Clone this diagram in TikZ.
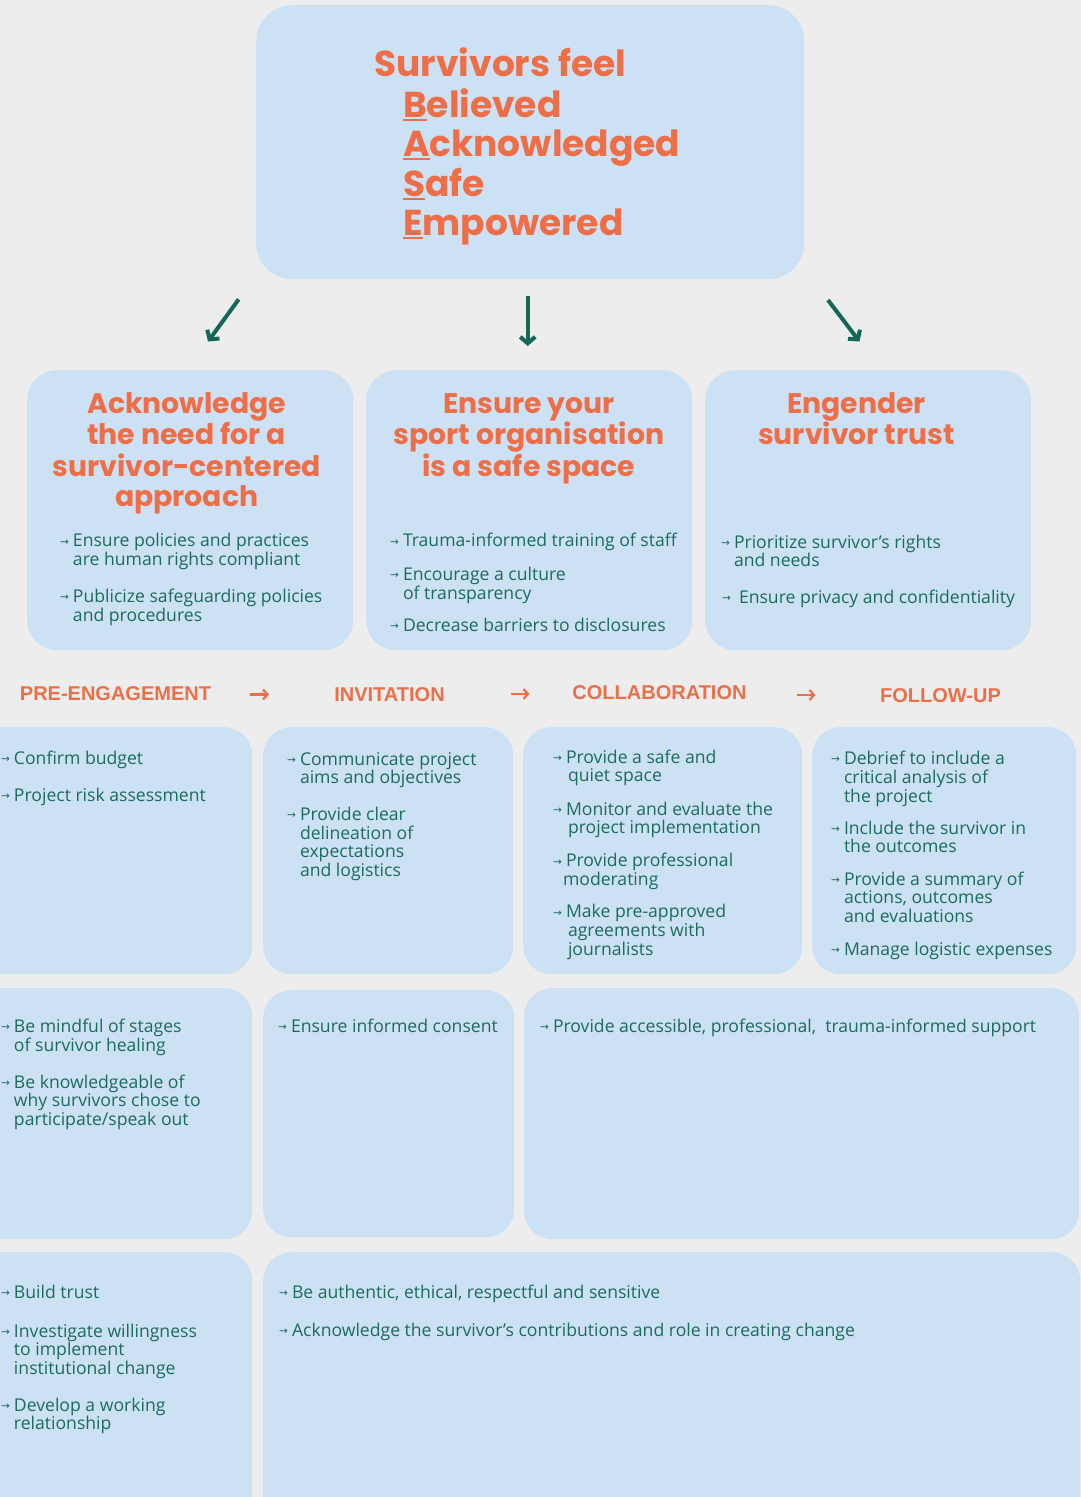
\documentclass[tikz,border=0pt]{standalone}
\usepackage{fontspec}
\setmainfont{Open Sans}
\newfontfamily\headfont{Poppins}
\newfontfamily\stagefont{Liberation Sans}
\newfontfamily\arrowfont{DejaVu Sans}
\usetikzlibrary{arrows.meta}
\definecolor{bgc}{HTML}{EDEDED}
\definecolor{boxc}{HTML}{CCE1F4}
\definecolor{orangec}{HTML}{EE6E48}
\definecolor{greenc}{HTML}{1D6B5C}
\definecolor{arrowc}{HTML}{146857}
\newcommand\arr{\raisebox{1.4pt}{\arrowfont\fontsize{10.5}{10}\selectfont →}}
\newcommand\bul[1]{\begin{tabular}[t]{@{}l@{\hspace{4pt}}l@{}}\arr & #1\end{tabular}}
\newcommand\hd[1]{\begin{tabular}[t]{@{}c@{}}#1\end{tabular}}
\newcommand\fu[1]{\setbox0\hbox{#1}\rlap{\rule[-3.8pt]{\wd0}{2.2pt}}#1}
\tikzset{
  panel/.style={fill=boxc, draw=none, inner sep=0pt, anchor=north west, rounded corners=#1},
  panel/.default=28pt,
  itm/.style={anchor=base west, inner sep=0pt, text=greenc, font=\fontsize{17.6}{18.6}\selectfont},
  head/.style={anchor=base, inner sep=0pt, text=orangec, font=\headfont\bfseries\fontsize{28.3}{30.5}\selectfont},
  titletext/.style={anchor=base west, inner sep=0pt, text=orangec, font=\headfont\bfseries\fontsize{36}{39.1}\selectfont},
  stage/.style={anchor=base, inner sep=0pt, text=orangec, font=\stagefont\bfseries\fontsize{20}{20}\selectfont},
  garrow/.style={draw=arrowc, line width=4pt, -{Straight Barb[length=6.5pt,width=15pt]}},
  oarrow/.style={draw=orangec, line width=2.2pt, -{Straight Barb[length=4.5pt,width=10pt]}},
}
\begin{document}
\begin{tikzpicture}[x=1pt,y=-1pt]
\useasboundingbox (0,0) rectangle (1081,1497);
\clip (0,0) rectangle (1081,1497);
\fill[bgc] (0,0) rectangle (1081,1497);

% top box
\node[panel=36pt, minimum width=548pt, minimum height=274pt] (top) at (256,5) {};
\node[titletext] (title) at (374.3,76.7) {\begin{tabular}[t]{@{}l@{}}Survivors feel\\
\hspace*{28.6pt}\fu{B}elieved\\
\hspace*{28.6pt}\fu{A}cknowledged\\
\hspace*{28.6pt}\fu{S}afe\\
\hspace*{28.6pt}\fu{E}mpowered\end{tabular}};

% arrows from the top box
\coordinate (g1s) at (238.7,299.3); \coordinate (g1e) at (208,341.5);
\coordinate (g2s) at (527.7,295.7); \coordinate (g2e) at (527.7,346);
\coordinate (g3s) at (828,300);   \coordinate (g3e) at (859.5,341.5);
\draw[garrow] (g1s) -- (g1e);
\draw[garrow] (g2s) -- (g2e);
\draw[garrow] (g3s) -- (g3e);

% row 2 boxes
\node[panel=30pt, minimum width=326pt, minimum height=280pt] (b1) at (27,370) {};
\node[panel=30pt, minimum width=326pt, minimum height=280pt] (b2) at (366,370) {};
\node[panel=30pt, minimum width=326pt, minimum height=280pt] (b3) at (705,370) {};

\node[head] (h1) at (186.7,413) {\hd{Acknowledge\\the need for a\\survivor-centered\\approach}};
\node[head] (h2) at (529,413) {\hd{Ensure your\\sport organisation\\is a safe space}};
\node[head] (h3) at (856.5,413) {\hd{Engender\\survivor trust}};

\node[itm] (r2a1) at (60,546.7) {\bul{Ensure policies and practices\\ & are human rights compliant}};
\node[itm] (r2a2) at (60,602.3) {\bul{Publicize safeguarding policies\\ & and procedures}};
\node[itm] (r2b1) at (390,546.7) {\bul{Trauma-informed training of staff}};
\node[itm] (r2b2) at (390,580) {\bul{Encourage a culture\\ & of transparency}};
\node[itm] (r2b3) at (390,631) {\bul{Decrease barriers to disclosures}};
\node[itm] (r2c1) at (721,548) {\bul{Prioritize survivor’s rights\\ & and needs}};
\node[itm] (r2c2) at (722,603) {\bul{\hspace{4pt}Ensure privacy and confidentiality}};

% stage labels
\node[stage] (s1) at (115.5,700) {PRE-ENGAGEMENT};
\node[stage] (s2) at (389.5,701) {INVITATION};
\node[stage] (s3) at (659.5,699) {COLLABORATION};
\node[stage] (s4) at (940.5,702) {FOLLOW-UP};
\coordinate (o1s) at (250,694.5); \coordinate (o1e) at (269,694.5);
\coordinate (o2s) at (510.5,694); \coordinate (o2e) at (529.5,694);
\coordinate (o3s) at (796.5,695); \coordinate (o3e) at (815.5,695);
\draw[oarrow] (o1s) -- (o1e);
\draw[oarrow] (o2s) -- (o2e);
\draw[oarrow] (o3s) -- (o3e);

% row 3
\node[panel, minimum width=282pt, minimum height=247pt] (p1a) at (-30,727) {};
\node[panel, minimum width=250pt, minimum height=247pt] (p1b) at (263,727) {};
\node[panel, minimum width=279pt, minimum height=247pt] (p1c) at (523,727) {};
\node[panel, minimum width=264pt, minimum height=247pt] (p1d) at (812,727) {};

\node[itm] (r3a1) at (1,764) {\bul{Confirm budget}};
\node[itm] (r3a2) at (1,801) {\bul{Project risk assessment}};
\node[itm] (r3b1) at (287,765) {\bul{Communicate project\\ & aims and objectives}};
\node[itm] (r3b2) at (287,820) {\bul{Provide clear\\ & delineation of\\ & expectations\\ & and logistics}};
\node[itm] (r3c1) at (553,763) {\bul{Provide a safe and\\ & \hspace{2pt}quiet space}};
\node[itm] (r3c2) at (553,815) {\bul{Monitor and evaluate the\\ & \hspace{2pt}project implementation}};
\node[itm] (r3c3) at (553,866.7) {\bul{Provide professional\\ & \hspace{-3pt}moderating}};
\node[itm] (r3c4) at (553,917.7) {\bul{Make pre-approved\\ & \hspace{2pt}agreements with\\ & \hspace{2pt}journalists}};
\node[itm] (r3d1) at (831,764) {\bul{Debrief to include a\\ & critical analysis of\\ & the project}};
\node[itm] (r3d2) at (831,834) {\bul{Include the survivor in\\ & the outcomes}};
\node[itm] (r3d3) at (831,885) {\bul{Provide a summary of\\ & actions, outcomes\\ & and evaluations}};
\node[itm] (r3d4) at (831,955) {\bul{Manage logistic expenses}};

% row 4
\node[panel, minimum width=282pt, minimum height=251pt] (p2a) at (-30,988) {};
\node[panel, minimum width=251pt, minimum height=247pt] (p2b) at (263,990) {};
\node[panel, minimum width=555pt, minimum height=251pt] (p2c) at (524,988) {};

\node[itm] (r4a1) at (1,1032) {\bul{Be mindful of stages\\ & of survivor healing}};
\node[itm] (r4a2) at (1,1088) {\bul{Be knowledgeable of\\ & why survivors chose to\\ & participate/speak out}};
\node[itm] (r4b1) at (278,1032) {\bul{Ensure informed consent}};
\node[itm] (r4c1) at (540,1032) {\bul{Provide accessible, professional,\ \ trauma-informed support}};

% row 5
\node[panel, minimum width=282pt, minimum height=300pt] (p3a) at (-30,1252) {};
\node[panel, minimum width=817pt, minimum height=300pt] (p3b) at (263,1252) {};

\node[itm] (r5a1) at (1,1298) {\bul{Build trust}};
\node[itm] (r5a2) at (1,1337) {\bul{Investigate willingness\\ & to implement\\ & institutional change}};
\node[itm] (r5a3) at (1,1411) {\bul{Develop a working\\ & relationship}};
\node[itm] (r5b1) at (279,1298) {\bul{Be authentic, ethical, respectful and sensitive}};
\node[itm] (r5b2) at (279,1336) {\bul{Acknowledge the survivor’s contributions and role in creating change}};
\end{tikzpicture}
\end{document}
